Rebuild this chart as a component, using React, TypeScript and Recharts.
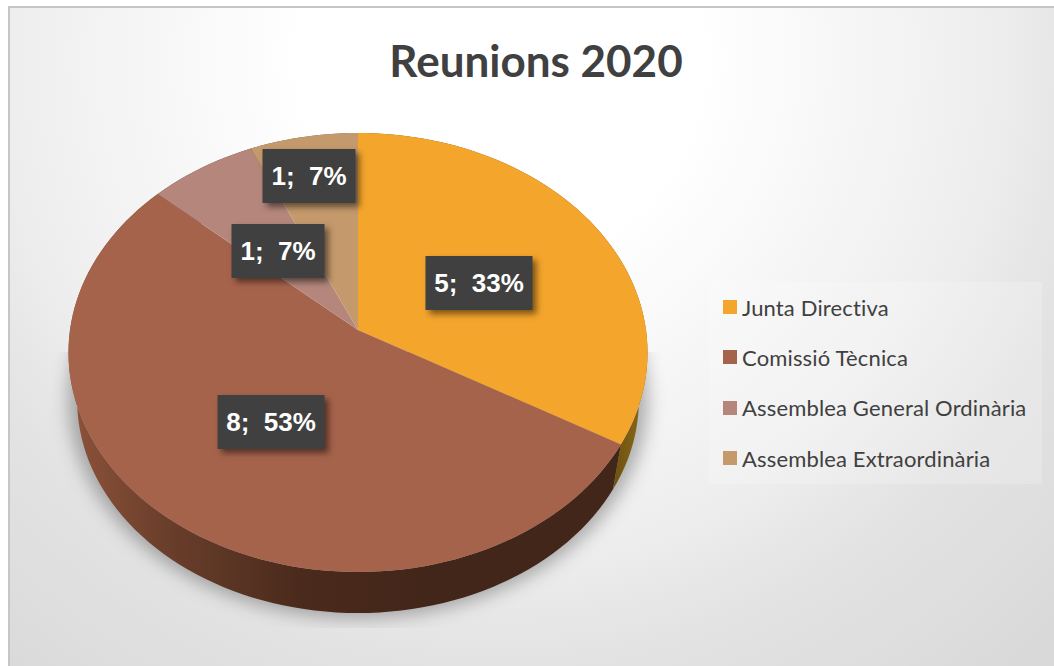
import { PieChart, Pie, Legend } from "recharts";

const categories = [
  "Junta Directiva",
  "Comissió Tècnica",
  "Assemblea General Ordinària",
  "Assemblea Extraordinària",
];
const meetings = [5, 8, 1, 1];
const topColors = ["#f4a52c", "#a6634c", "#b5877c", "#c49a6c"];
const wallColors = ["url(#wallOrange)", "url(#wallBrown)", "#6e4a40", "#75583a"];

// label centres, relative to the pie centre
const labelOffsets = [
  [121, -47],
  [-87, 92],
  [-80, -79],
  [-49, -154],
];
const labelWidths = [107, 107, 93, 93];

const data = categories.map((name, i) => ({
  name,
  value: meetings[i],
  color: topColors[i],
}));

const CX = 358;
const CY = 330;
const RX = 288;
const RY = 217.2;
const TILT = 0.1025;
// the base of the disc sits further away, so it is drawn a little smaller
const BASE_SCALE = 0.97;
const BASE_DROP = 48.3;

// circle -> tilted disc seen in perspective
function project(cx: number, cy: number, angle: number, scale = 1, drop = 0) {
  const rad = (angle * Math.PI) / 180;
  const u = Math.cos(rad);
  const v = -Math.sin(rad);
  const w = 1 - TILT * v;
  return [cx + (scale * RX * u) / w, cy + drop + (scale * RY * v) / w];
}

function arcPoints(cx: number, cy: number, start: number, end: number, scale = 1, drop = 0) {
  const n = Math.max(2, Math.ceil(Math.abs(end - start) / 2));
  const pts: number[][] = [];
  for (let i = 0; i <= n; i++) {
    pts.push(project(cx, cy, start + ((end - start) * i) / n, scale, drop));
  }
  return pts;
}

const toPath = (pts: number[][]) =>
  pts.map((p, i) => `${i ? "L" : "M"}${p[0].toFixed(2)} ${p[1].toFixed(2)}`).join(" ");

function TopSlice(props: any) {
  const { cx, cy, startAngle, endAngle, payload } = props;
  const pts = arcPoints(cx, cy, startAngle, endAngle);
  return <path d={`M${cx} ${cy} ${toPath(pts).replace("M", "L")} Z`} fill={payload.color} stroke="none" />;
}

function WallSlice(props: any) {
  const { cx, cy, startAngle, endAngle, index } = props;
  const top = arcPoints(cx, cy, startAngle, endAngle);
  const bottom = arcPoints(cx, cy, endAngle, startAngle, BASE_SCALE, BASE_DROP);
  return <path d={`${toPath(top)} ${toPath(bottom).replace("M", "L")} Z`} fill={wallColors[index]} stroke="none" />;
}

// one soft disc under the whole pie, so the slices leave no seams in the blur
function ShadowSlice(props: any) {
  const { cx, cy, index } = props;
  if (index !== 0) return <g />;
  const pts = arcPoints(cx, cy, 0, 360, 1, 46);
  return <path d={`${toPath(pts)} Z`} fill="#000" fillOpacity={0.3} stroke="none" filter="url(#pieBlur)" />;
}

function SliceLabel(props: any) {
  const { cx, cy, index, value, percent } = props;
  const [dx, dy] = labelOffsets[index];
  const w = labelWidths[index];
  const h = 54;
  return (
    <g>
      <rect
        x={cx + dx - w / 2}
        y={cy + dy - h / 2}
        width={w}
        height={h}
        fill="#404040"
        style={{ filter: "drop-shadow(4px 4px 3px rgba(0,0,0,0.5))" }}
      />
      <text
        x={cx + dx}
        y={cy + dy + 9}
        textAnchor="middle"
        fill="#fff"
        fontFamily="'Liberation Sans', Arial, sans-serif"
        fontWeight="bold"
        fontSize={26}
        style={{ whiteSpace: "pre" }}
      >
        {`${value};  ${Math.round(percent * 100)}%`}
      </text>
    </g>
  );
}

function LegendBox() {
  return (
    <div
      style={{
        position: "absolute",
        left: 709,
        top: 282,
        width: 333,
        height: 202,
        background: "rgba(255,255,255,0.2)",
      }}
    >
      {data.map((d) => (
        <div key={d.name} style={{ display: "flex", alignItems: "center", height: 50.3 }}>
          <span style={{ width: 14, height: 14, marginLeft: 14, marginRight: 5, background: d.color }} />
          <span style={{ fontFamily: "Lato, sans-serif", fontSize: 22, letterSpacing: 0.15, color: "#404040" }}>
            {d.name}
          </span>
        </div>
      ))}
    </div>
  );
}

export default function App() {
  return (
    <div
      style={{
        position: "absolute",
        left: 0,
        top: 0,
        width: 1054,
        height: 666,
        overflow: "hidden",
        background: "#fff",
      }}
    >
      <div
        style={{
          position: "absolute",
          left: 8,
          top: 6,
          width: 1046,
          height: 660,
          boxSizing: "border-box",
          borderLeft: "2px solid #c6c6c6",
          borderTop: "2px solid #c6c6c6",
          background:
            "radial-gradient(circle 800px at 490px 52px, #ffffff 0%, #ffffff 25%, #f8f8f8 40%, #eeeeee 61%, #e3e3e3 75%, #d9d9d9 100%)",
        }}
      />
      <div
        style={{
          position: "absolute",
          left: 0,
          top: 34,
          width: 1072,
          textAlign: "center",
          fontFamily: "Lato, sans-serif",
          fontWeight: 700,
          fontSize: 44,
          color: "#404040",
        }}
      >
        Reunions 2020
      </div>
      <div style={{ position: "absolute", left: 0, top: 0 }}>
        <PieChart width={1054} height={666} margin={{ top: 0, right: 0, bottom: 0, left: 0 }}>
          <defs>
            <linearGradient id="wallBrown" gradientUnits="userSpaceOnUse" x1={80} y1={0} x2={420} y2={0}>
              <stop offset="0%" stopColor="#8a5038" />
              <stop offset="25%" stopColor="#6a3f2b" />
              <stop offset="65%" stopColor="#4a2a1c" />
              <stop offset="100%" stopColor="#43261a" />
            </linearGradient>
            <linearGradient id="wallOrange" gradientUnits="userSpaceOnUse" x1={615} y1={0} x2={645} y2={0}>
              <stop offset="0%" stopColor="#6f5210" />
              <stop offset="100%" stopColor="#8a6a18" />
            </linearGradient>
            <filter id="pieBlur" filterUnits="userSpaceOnUse" x={40} y={352} width={640} height={276}>
              <feGaussianBlur stdDeviation={9} />
            </filter>
          </defs>
          <Pie
            data={data}
            dataKey="value"
            cx={CX}
            cy={CY}
            outerRadius={RX}
            startAngle={90}
            endAngle={-270}
            shape={ShadowSlice}
            legendType="none"
            isAnimationActive={false}
          />
          <Pie
            data={data}
            dataKey="value"
            cx={CX}
            cy={CY}
            outerRadius={RX}
            startAngle={90}
            endAngle={-270}
            shape={WallSlice}
            legendType="none"
            isAnimationActive={false}
          />
          <Pie
            data={data}
            dataKey="value"
            cx={CX}
            cy={CY}
            outerRadius={RX}
            startAngle={90}
            endAngle={-270}
            shape={TopSlice}
            label={SliceLabel}
            labelLine={false}
            isAnimationActive={false}
          />
          <Legend content={LegendBox} wrapperStyle={{ position: "static" }} />
        </PieChart>
      </div>
    </div>
  );
}
